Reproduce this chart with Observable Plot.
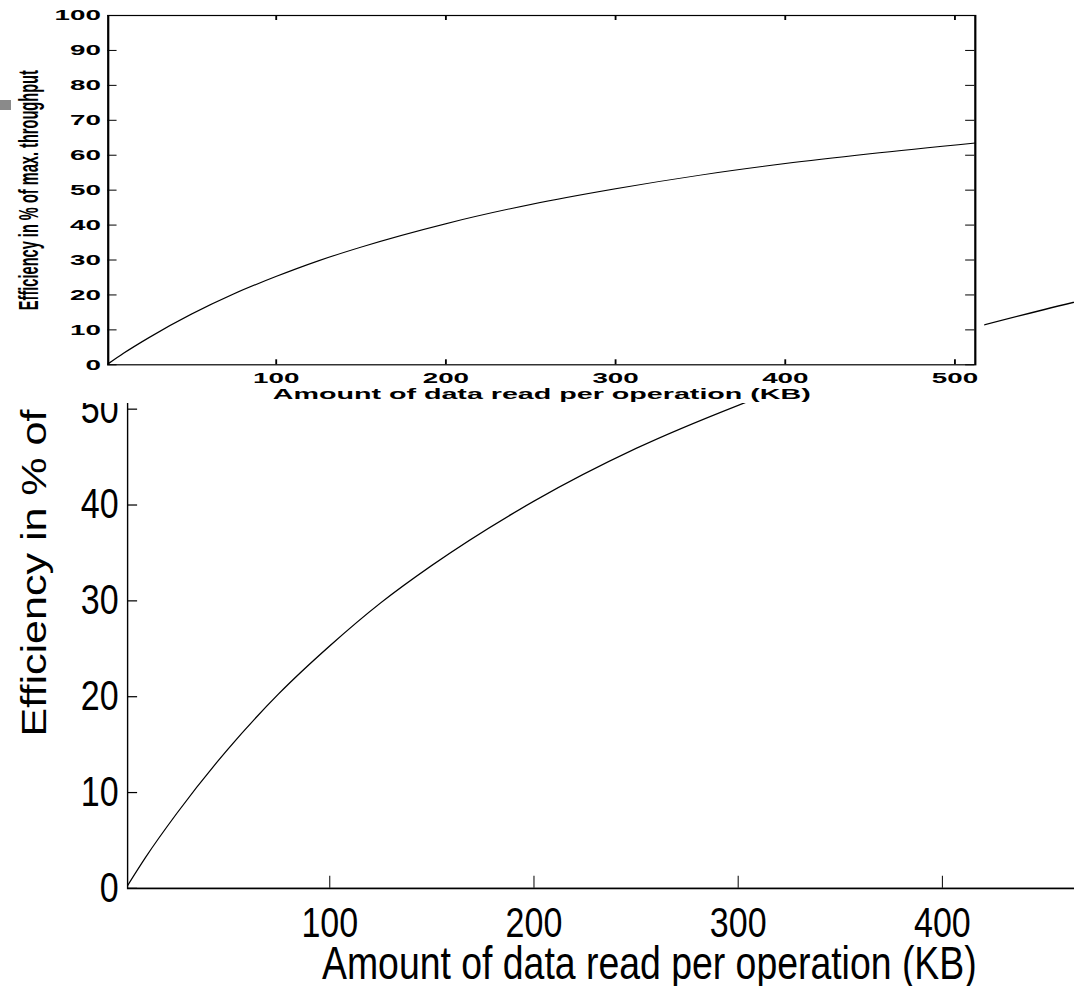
<!DOCTYPE html>
<html>
<head>
<meta charset="utf-8">
<script src="https://cdn.jsdelivr.net/npm/d3@7"></script>
<script src="https://cdn.jsdelivr.net/npm/@observablehq/plot@0.6"></script>
<style>
  html, body { margin: 0; padding: 0; background: white; }
  #page { position: relative; width: 1074px; height: 986px; overflow: hidden; background: white; }
  #page svg { position: absolute; left: 0; max-width: none !important; }
  #marker { position: absolute; left: 0; top: 100px; width: 11px; height: 10px; background: #8a8a8a; z-index: 5; }
</style>
</head>
<body>
<div id="page"><div id="marker"></div></div>
<script>
// ---- data ----
const sizeKB     = [1, 10, 25, 50, 75, 100, 125, 150, 200, 250, 300, 350, 400, 450, 512];
const efficiency = [0.3, 3.3, 7.8, 14.5, 20.3, 25.3, 29.8, 33.7, 40.4, 45.9, 50.4, 54.3, 57.6, 60.4, 63.5];
const xTicks = [100, 200, 300, 400, 500];
const yTicks = [0, 10, 20, 30, 40, 50, 60, 70, 80, 90, 100];
const xLabel = "Amount of data read per operation (KB)";
const yLabel = "Efficiency in % of max. throughput";

const points = sizeKB.map((s, i) => ({size: s, eff: efficiency[i]}));
const page = document.getElementById("page");
const font = "'Liberation Sans', Arial, Helvetica, sans-serif";

// ---- large (zoomed) background chart, stretched vertically ----
const SY = 1.23;
const B = {w: 1191, ml: 127.1, mt: 10, fw: 1043.5, fh: 958.5 / SY, mb: 85};
B.mr = B.w - B.ml - B.fw;
B.h = B.mt + B.fh + B.mb;
const big = Plot.plot({
  width: B.w, height: B.h,
  marginLeft: B.ml, marginRight: B.mr, marginTop: B.mt, marginBottom: B.mb,
  x: {domain: [1, 512]},
  y: {domain: [0, 100]},
  style: {fontFamily: font, fontSize: "34px", color: "black", background: "transparent", overflow: "visible", maxWidth: "none"},
  marks: [
    Plot.frame({stroke: "black", strokeWidth: 1.4}),
    Plot.tickX(xTicks, {x: d => d, insetTop: B.fh - 9.8, stroke: "black", strokeWidth: 1}),
    Plot.tickY(yTicks, {y: d => d, insetRight: B.fw - 10, stroke: "black", strokeWidth: 1}),
    Plot.axisX(xTicks, {tickSize: 0, tickPadding: 15, label: null, fontSize: 34}),
    Plot.axisY(yTicks, {tickSize: 0, tickPadding: 9, label: null, fontSize: 34}),
    Plot.line(points, {x: "size", y: "eff", curve: "monotone-x", stroke: "black", strokeWidth: 1.1}),
    Plot.text([xLabel], {text: d => d, frameAnchor: "bottom", lineAnchor: "bottom", dy: 73.7, fontSize: 37.4}),
    Plot.text([yLabel], {text: d => d, frameAnchor: "left", rotate: -90, textAnchor: "middle", lineAnchor: "bottom", dx: 45 - B.ml, dy: 1.9, fontSize: 35})
  ]
});
big.style.top = (-70.8 - B.mt * SY) + "px";
big.style.width = B.w + "px";
big.style.height = B.h + "px";
big.style.transform = `scaleY(${SY})`;
big.style.transformOrigin = "0 0";
page.appendChild(big);

// ---- inset chart, stretched horizontally ----
const SX = 1.85;
const I = {w: 985 / SX, ml: 107.3 / SX, h: 403, mt: 15, mb: 38.7};
I.fw = 867.1 / SX;
I.mr = I.w - I.ml - I.fw;
I.fh = I.h - I.mt - I.mb;
const inset = Plot.plot({
  width: I.w, height: I.h,
  marginLeft: I.ml, marginRight: I.mr, marginTop: I.mt, marginBottom: I.mb,
  x: {domain: [1, 512]},
  y: {domain: [0, 100]},
  style: {fontFamily: font, fontSize: "15px", fontWeight: "bold", color: "black", background: "white", overflow: "visible", maxWidth: "none"},
  marks: [
    Plot.tickX(xTicks, {x: d => d, insetTop: I.fh - 5, stroke: "black", strokeWidth: 1}),
    Plot.tickX(xTicks, {x: d => d, insetBottom: I.fh - 5, stroke: "black", strokeWidth: 1}),
    Plot.tickY(yTicks, {y: d => d, insetRight: I.fw - 5, stroke: "black", strokeWidth: 1}),
    Plot.tickY(yTicks, {y: d => d, insetLeft: I.fw - 5, stroke: "black", strokeWidth: 1}),
    Plot.frame({stroke: "black", strokeWidth: 1.2}),
    Plot.axisX(xTicks, {tickSize: 0, tickPadding: 8, label: null, fontSize: 15, fontWeight: "bold"}),
    Plot.axisY(yTicks, {tickSize: 0, tickPadding: 4, label: null, fontSize: 15, fontWeight: "bold"}),
    Plot.line(points, {x: "size", y: "eff", curve: "monotone-x", stroke: "black", strokeWidth: 1}),
    Plot.text([xLabel], {text: d => d, frameAnchor: "bottom", lineAnchor: "bottom", dy: 34, fontSize: 15.5, fontWeight: "bold"}),
    Plot.text([yLabel], {text: d => d, frameAnchor: "left", rotate: -90, textAnchor: "middle", lineAnchor: "bottom", dx: 20.2 - I.ml, fontSize: 14.6, fontWeight: "bold"})
  ]
});
inset.style.top = "0px";
inset.style.width = I.w + "px";
inset.style.height = I.h + "px";
inset.style.transform = `scaleX(${SX})`;
inset.style.transformOrigin = "0 0";
page.appendChild(inset);
</script>
</body>
</html>
